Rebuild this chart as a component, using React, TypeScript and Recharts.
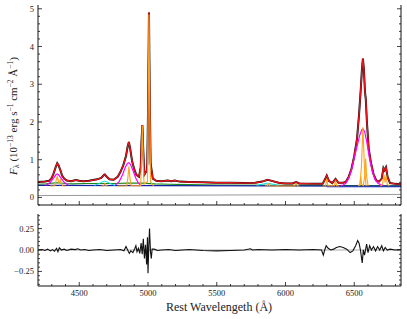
import React from "react";
import { LineChart, Line, XAxis, YAxis, ReferenceLine } from "recharts";

const xTicks = [4300, 4400, 4500, 4600, 4700, 4800, 4900, 5000, 5100, 5200, 5300, 5400, 5500, 5600, 5700, 5800, 5900, 6000, 6100, 6200, 6300, 6400, 6500, 6600, 6700, 6800];
const xMajor = [4500, 5000, 5500, 6000, 6500];
const fluxTicks = [-0.2, 0, 0.2, 0.4, 0.6, 0.8, 1, 1.2, 1.4, 1.6, 1.8, 2, 2.2, 2.4, 2.6, 2.8, 3, 3.2, 3.4, 3.6, 3.8, 4, 4.2, 4.4, 4.6, 4.8, 5];
const fluxMajor = [0, 1, 2, 3, 4, 5];
const resTicks = [-0.4, -0.35, -0.3, -0.25, -0.2, -0.15, -0.1, -0.05, 0, 0.05, 0.1, 0.15, 0.2, 0.25, 0.3, 0.35, 0.4];
const resMajor = [-0.25, 0, 0.25];

// observed spectrum / total model
const modelWave = [4200, 4250, 4280, 4300, 4315, 4330, 4340, 4350, 4363, 4375, 4390, 4410, 4440, 4475, 4500, 4530, 4570, 4600, 4630, 4660, 4680, 4686, 4700, 4720, 4750, 4780, 4800, 4820, 4840, 4852, 4861, 4870, 4885, 4900, 4915, 4935, 4947, 4953, 4959, 4965, 4973, 4990, 4995, 5001, 5007, 5013, 5019, 5035, 5060, 5100, 5143, 5170, 5195, 5230, 5300, 5400, 5500, 5600, 5700, 5780, 5830, 5870, 5900, 5950, 6000, 6050, 6077, 6100, 6200, 6270, 6290, 6300, 6315, 6340, 6364, 6385, 6420, 6440, 6460, 6480, 6500, 6520, 6535, 6548, 6556, 6563, 6570, 6578, 6584, 6592, 6605, 6620, 6640, 6660, 6680, 6700, 6712, 6720, 6731, 6742, 6760, 6800, 6840];
const modelFlux = [0.41, 0.42, 0.44, 0.52, 0.65, 0.82, 0.91, 0.85, 0.72, 0.58, 0.5, 0.45, 0.43, 0.46, 0.44, 0.43, 0.44, 0.46, 0.48, 0.52, 0.6, 0.61, 0.55, 0.48, 0.47, 0.55, 0.68, 0.85, 1.1, 1.35, 1.47, 1.3, 0.95, 0.75, 0.6, 0.55, 0.8, 1.5, 1.92, 1.3, 0.6, 0.7, 0.9, 2.5, 4.9, 2.5, 0.9, 0.5, 0.44, 0.43, 0.45, 0.43, 0.45, 0.42, 0.41, 0.4, 0.39, 0.39, 0.38, 0.39, 0.42, 0.47, 0.44, 0.39, 0.37, 0.37, 0.41, 0.37, 0.36, 0.36, 0.5, 0.58, 0.44, 0.38, 0.49, 0.39, 0.39, 0.42, 0.55, 0.76, 1.1, 1.55, 2.2, 2.9, 3.4, 3.68, 3.4, 2.8, 2.6, 2.0, 1.3, 0.95, 0.62, 0.45, 0.42, 0.5, 0.78, 0.72, 0.8, 0.55, 0.38, 0.36, 0.35];

// power-law continuum, host, Balmer, Fe II
const contWave = [4200, 6840];
const contFlux = [0.32, 0.3];
const hostWave = [4200, 6840];
const hostFlux = [0.05, 0.08];
const balmerWave = [6300, 6840];
const balmerFlux = [0.293, 0.293];
const feWave = [4200, 4260, 4300, 4340, 4400, 4450, 4550, 4650, 4750, 4850, 4950, 5050, 5150, 5300, 5500, 6000, 6840];
const feFlux = [0.35, 0.36, 0.38, 0.39, 0.37, 0.36, 0.37, 0.37, 0.37, 0.38, 0.38, 0.36, 0.35, 0.34, 0.33, 0.32, 0.305];

// broad components
const hgBroadWave = [4260, 4290, 4310, 4330, 4340, 4350, 4370, 4390, 4420];
const hgBroadFlux = [0.32, 0.4, 0.5, 0.6, 0.62, 0.6, 0.5, 0.4, 0.33];
const hbBroadWave = [4760, 4790, 4815, 4835, 4850, 4861, 4872, 4890, 4910, 4930, 4950];
const hbBroadFlux = [0.32, 0.42, 0.6, 0.8, 0.9, 0.92, 0.88, 0.72, 0.52, 0.38, 0.32];
const haBroadWave = [6400, 6420, 6440, 6460, 6480, 6500, 6520, 6540, 6555, 6563, 6575, 6590, 6610, 6630, 6650, 6670, 6690, 6710];
const haBroadFlux = [0.32, 0.33, 0.38, 0.5, 0.72, 1.05, 1.35, 1.65, 1.8, 1.82, 1.75, 1.5, 1.05, 0.7, 0.48, 0.38, 0.34, 0.32];
const heiiWave = [4610, 4640, 4665, 4686, 4710, 4735, 4760];
const heiiFlux = [0.32, 0.36, 0.41, 0.43, 0.4, 0.35, 0.32];
const heiWave = [5790, 5830, 5870, 5910, 5950];
const heiFlux = [0.32, 0.35, 0.38, 0.35, 0.32];

// narrow components
const nHgWave = [4290, 4322, 4332, 4340, 4348, 4356, 4363, 4370, 4380, 4400];
const nHgFlux = [0.305, 0.31, 0.45, 0.56, 0.45, 0.36, 0.48, 0.36, 0.31, 0.305];
const nHeWave = [4660, 4678, 4686, 4694, 4710];
const nHeFlux = [0.305, 0.31, 0.37, 0.31, 0.305];
const nHbWave = [4780, 4845, 4853, 4861, 4869, 4877, 4947, 4953, 4959, 4965, 4971, 4996, 5001, 5007, 5013, 5018, 5040];
const nHbFlux = [0.305, 0.31, 0.5, 0.82, 0.5, 0.31, 0.31, 1.0, 1.9, 1.0, 0.35, 0.42, 2.2, 4.85, 2.2, 0.42, 0.305];
const nHeiWave = [5850, 5868, 5876, 5884, 5900, 6065, 6077, 6089, 6100];
const nHeiFlux = [0.305, 0.31, 0.36, 0.31, 0.305, 0.305, 0.36, 0.305, 0.305];
const nOiWave = [6270, 6292, 6300, 6308, 6355, 6364, 6372, 6390];
const nOiFlux = [0.305, 0.31, 0.5, 0.31, 0.31, 0.45, 0.31, 0.305];
const nNii1Wave = [6530, 6542, 6548, 6554, 6566];
const nNii1Flux = [0.305, 0.35, 0.55, 0.35, 0.305];
const nHaWave = [6540, 6552, 6563, 6574, 6586];
const nHaFlux = [0.305, 0.8, 1.86, 0.8, 0.305];
const nNii2Wave = [6565, 6576, 6583, 6590, 6601];
const nNii2Flux = [0.305, 0.55, 1.03, 0.55, 0.305];
const nSiiWave = [6690, 6706, 6716, 6724, 6731, 6740, 6755];
const nSiiFlux = [0.305, 0.35, 0.6, 0.4, 0.58, 0.35, 0.305];

// residuals
const resWave = [4200, 4230, 4250, 4270, 4290, 4305, 4320, 4335, 4345, 4355, 4370, 4390, 4410, 4440, 4470, 4490, 4510, 4540, 4570, 4600, 4650, 4700, 4750, 4800, 4825, 4840, 4852, 4864, 4875, 4890, 4905, 4912, 4920, 4930, 4940, 4950, 4958, 4966, 4974, 4982, 4990, 4996, 5000, 5006, 5011, 5018, 5024, 5030, 5045, 5070, 5100, 5150, 5200, 5250, 5300, 5400, 5500, 5600, 5700, 5745, 5760, 5800, 5900, 6000, 6100, 6200, 6262, 6275, 6285, 6296, 6310, 6330, 6350, 6370, 6395, 6420, 6445, 6470, 6490, 6510, 6525, 6535, 6545, 6558, 6566, 6575, 6590, 6600, 6612, 6625, 6640, 6655, 6670, 6685, 6700, 6712, 6725, 6740, 6760, 6800, 6840];
const resVal = [0.0, 0.005, -0.005, 0.01, -0.01, 0.005, -0.015, 0.02, -0.02, 0.025, 0.0, 0.01, -0.005, 0.01, 0.005, 0.015, 0.0, 0.005, -0.005, 0.0, 0.005, -0.005, 0.0, 0.005, -0.01, 0.04, 0.0, -0.04, -0.01, -0.03, 0.02, 0.05, -0.02, 0.02, -0.04, 0.08, -0.05, 0.13, -0.1, 0.06, -0.17, 0.15, -0.27, 0.05, 0.25, -0.02, -0.1, 0.01, 0.01, -0.005, 0.0, 0.005, -0.005, 0.0, 0.005, -0.005, -0.01, -0.005, 0.0, 0.015, 0.0, 0.005, 0.0, 0.005, 0.0, 0.005, 0.0, -0.06, 0.0, 0.05, 0.02, 0.0, 0.01, 0.03, 0.04, 0.03, 0.01, -0.03, -0.01, 0.05, 0.11, 0.08, 0.0, -0.15, 0.0, -0.06, 0.07, -0.03, 0.05, 0.0, 0.04, -0.01, 0.04, 0.0, 0.05, -0.01, 0.03, 0.0, 0.01, 0.0, 0.005];

const pts = (w: number[], f: number[]) => w.map((x, i) => ({ x, y: f[i] }));

const FONT = '"Liberation Serif", "DejaVu Serif", serif';
const X_DOMAIN: [number, number] = [4200, 6840];

type Side = "bottom" | "top" | "left" | "right";

// inward ticks, long at majors, label only where a formatter is given
function makeTick(side: Side, majors: number[], fmt?: (v: number) => string) {
  return (props: any) => {
    const { x, y, payload } = props;
    const v = payload.value as number;
    const major = majors.some((m) => Math.abs(m - v) < 1e-6);
    const len = major ? 4 : 2;
    let x2 = x;
    let y2 = y;
    if (side === "bottom") y2 = y - len;
    if (side === "top") y2 = y + len;
    if (side === "left") x2 = x + len;
    if (side === "right") x2 = x - len;
    let label = null;
    if (major && fmt) {
      if (side === "bottom")
        label = (
          <text x={x} y={y + 10} textAnchor="middle" fontSize={8.5} fontFamily={FONT} fill="#222">
            {fmt(v)}
          </text>
        );
      if (side === "left")
        label = (
          <text x={x - 4} y={y + 3} textAnchor="end" fontSize={8.5} fontFamily={FONT} fill="#222">
            {fmt(v)}
          </text>
        );
    }
    return (
      <g>
        <line x1={x} y1={y} x2={x2} y2={y2} stroke="#111" strokeWidth={0.8} />
        {label}
      </g>
    );
  };
}

const fmtFlux = (v: number) => String(v);
const fmtRes = (v: number) => (Math.abs(v) < 1e-9 ? "0.00" : (v < 0 ? "\u2212" : "") + Math.abs(v).toFixed(2));

const axisLine = { stroke: "#111", strokeWidth: 1 };

function frame(yDomain: [number, number], yTicks: number[], yMajor: number[], yFmt: (v: number) => string, showX: boolean, bottomH: number) {
  return [
    <XAxis key="xb" xAxisId="b" dataKey="x" type="number" domain={X_DOMAIN} allowDataOverflow ticks={xTicks} interval={0}
      height={bottomH} tickSize={0} tickMargin={0} axisLine={axisLine} tickLine={false}
      tick={makeTick("bottom", xMajor, showX ? (v: number) => String(v) : undefined)} />,
    <XAxis key="xt" xAxisId="t" dataKey="x" type="number" orientation="top" domain={X_DOMAIN} allowDataOverflow ticks={xTicks} interval={0}
      height={0} tickSize={0} tickMargin={0} axisLine={axisLine} tickLine={false} tick={makeTick("top", xMajor)} />,
    <YAxis key="yl" yAxisId="l" type="number" domain={yDomain} allowDataOverflow ticks={yTicks} interval={0}
      width={38} tickSize={0} tickMargin={0} axisLine={axisLine} tickLine={false} tick={makeTick("left", yMajor, yFmt)} />,
    <YAxis key="yr" yAxisId="r" type="number" orientation="right" domain={yDomain} allowDataOverflow ticks={yTicks} interval={0}
      width={6} tickSize={0} tickMargin={0} axisLine={axisLine} tickLine={false} tick={makeTick("right", yMajor)} />,
  ];
}

const series = (key: string, w: number[], f: number[], color: string, width = 1) => (
  <Line key={key} xAxisId="b" yAxisId="l" data={pts(w, f)} dataKey="y" type="linear" stroke={color}
    strokeWidth={width} dot={false} activeDot={false} isAnimationActive={false} />
);

const ORANGE = "#ffa31a";
const MAGENTA = "#ff00ff";
const CYAN = "#00e5e5";

export default function App() {
  return (
    <div style={{ position: "absolute", left: 0, top: 0, width: 407, height: 319, background: "#fff" }}>
      <div style={{ position: "absolute", left: 0, top: 0 }}>
        <LineChart width={407} height={215} margin={{ top: 5, right: 0, bottom: 0, left: 0 }}>
          {frame([-0.2, 5.1], fluxTicks, fluxMajor, fmtFlux, false, 10)}
          {series("data", modelWave, modelFlux, "#111", 2)}
          {series("model", modelWave, modelFlux, "#e8141c", 1.3)}
          {series("host", hostWave, hostFlux, "#999999", 1)}
          {series("balmer", balmerWave, balmerFlux, "#8f8fef", 2)}
          {series("fe", feWave, feFlux, "#1a8a1a", 1.2)}
          {series("cont", contWave, contFlux, "#1520a6", 1.3)}
          {series("heii", heiiWave, heiiFlux, CYAN, 1)}
          {series("hei", heiWave, heiFlux, CYAN, 1)}
          {series("hgb", hgBroadWave, hgBroadFlux, MAGENTA, 1.2)}
          {series("hbb", hbBroadWave, hbBroadFlux, MAGENTA, 1.2)}
          {series("hab", haBroadWave, haBroadFlux, MAGENTA, 1.2)}
          {series("nhg", nHgWave, nHgFlux, ORANGE, 1.1)}
          {series("nhe", nHeWave, nHeFlux, ORANGE, 1.1)}
          {series("nhb", nHbWave, nHbFlux, ORANGE, 1.1)}
          {series("nhei", nHeiWave, nHeiFlux, ORANGE, 1.1)}
          {series("noi", nOiWave, nOiFlux, ORANGE, 1.1)}
          {series("nn1", nNii1Wave, nNii1Flux, ORANGE, 1.1)}
          {series("nha", nHaWave, nHaFlux, ORANGE, 1.1)}
          {series("nn2", nNii2Wave, nNii2Flux, ORANGE, 1.1)}
          {series("nsii", nSiiWave, nSiiFlux, ORANGE, 1.1)}
        </LineChart>
      </div>
      <div style={{ position: "absolute", left: 0, top: 214 }}>
        <LineChart width={407} height={105} margin={{ top: 0, right: 0, bottom: 0, left: 0 }}>
          {frame([-0.42, 0.42], resTicks, resMajor, fmtRes, true, 33)}
          <ReferenceLine xAxisId="b" yAxisId="l" y={0} stroke="#aaaaaa" strokeWidth={1} />
          {series("res", resWave, resVal, "#111", 1.1)}
        </LineChart>
      </div>
      <svg width={407} height={319} style={{ position: "absolute", left: 0, top: 0, pointerEvents: "none" }}>
        <text x={219} y={311} textAnchor="middle" fontSize={12} fontFamily={FONT} fill="#222">
          Rest Wavelengeth (Å)
        </text>
        <text transform="translate(17,116) rotate(-90)" textAnchor="middle" fontSize={11} fontFamily={FONT} fill="#222">
          <tspan fontStyle="italic">F</tspan>
          <tspan fontSize={8} dy={2}>λ</tspan>
          <tspan dy={-2}> (10</tspan>
          <tspan fontSize={7.5} dy={-4}>−13</tspan>
          <tspan dy={4}> erg s</tspan>
          <tspan fontSize={7.5} dy={-4}>−1</tspan>
          <tspan dy={4}> cm</tspan>
          <tspan fontSize={7.5} dy={-4}>−2</tspan>
          <tspan dy={4}> Å</tspan>
          <tspan fontSize={7.5} dy={-4}>−1</tspan>
          <tspan dy={4}>)</tspan>
        </text>
      </svg>
    </div>
  );
}
